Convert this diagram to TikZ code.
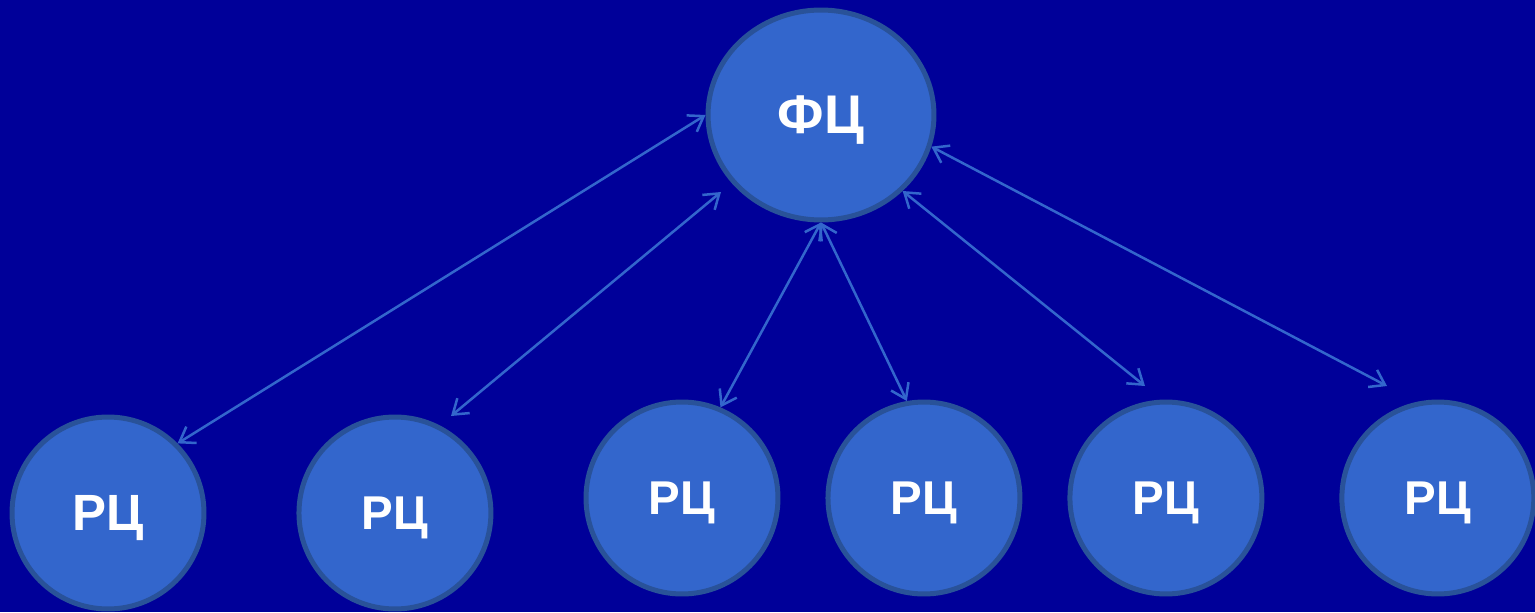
\documentclass[tikz,border=0pt]{standalone}
\usepackage{fontspec}
\setsansfont{Liberation Sans}
\definecolor{centerbg}{RGB}{0,0,153}
\definecolor{centerfill}{RGB}{51,102,204}
\definecolor{centerdraw}{RGB}{41,82,153}
\tikzset{every picture/.style={/utils/exec={\sffamily\bfseries}}}
\usetikzlibrary{positioning}
\usetikzlibrary{arrows.meta,shapes.geometric}

\begin{document}
\begin{tikzpicture}[x=0.02cm, y=-0.02cm, >={Straight Barb[length=8pt,width=11pt]}]
  \fill [centerbg] (0,0) rectangle (1535,612);
  \useasboundingbox (0,0) rectangle (1535,612);

  \node [ellipse, draw=centerdraw, fill=centerfill, line width=0.1cm, minimum width=4.52cm, minimum height=4.2cm, inner sep=0pt, text=white, text depth=0pt, font=\fontsize{31}{31}\selectfont] (fc) at (821,115) {ФЦ};

  \begin{scope}[every node/.style={circle, draw=centerdraw, fill=centerfill, line width=0.1cm, minimum size=3.84cm, inner sep=0pt, text=white, text depth=0pt, font=\fontsize{27}{27}\selectfont}]
    \node [font=\fontsize{29}{29}\selectfont] (rc1) at (108,513) {РЦ};
    \node [right=1.8cm of rc1] (rc2) {РЦ};
    \node (rc3) at (682,498) {РЦ};
    \node [right=0.9cm of rc3] (rc4) {РЦ};
    \node [right=0.9cm of rc4] (rc5) {РЦ};
    \node [right=1.5cm of rc5] (rc6) {РЦ};
  \end{scope}

  \coordinate (fctip) at (721,192);
  \coordinate (rc2tip) at (451,416);
  \coordinate (rc5tip) at (1145,386);
  \coordinate (rc6tip) at (1387,386);

  \begin{scope}[centerfill, line width=0.05cm]
    \draw [<->] (rc1.north east) -- (fc.west);
    \draw [<->] (rc2tip) -- (fctip);
    \draw [<->] (rc3.67) -- (fc.south);
    \draw [<->] (rc4.100) -- (fc.south);
    \draw [<->] (rc5tip) -- (fc.south east);
    \draw [<->] (rc6tip) -- (fc.-16);
  \end{scope}
\end{tikzpicture}
\end{document}
